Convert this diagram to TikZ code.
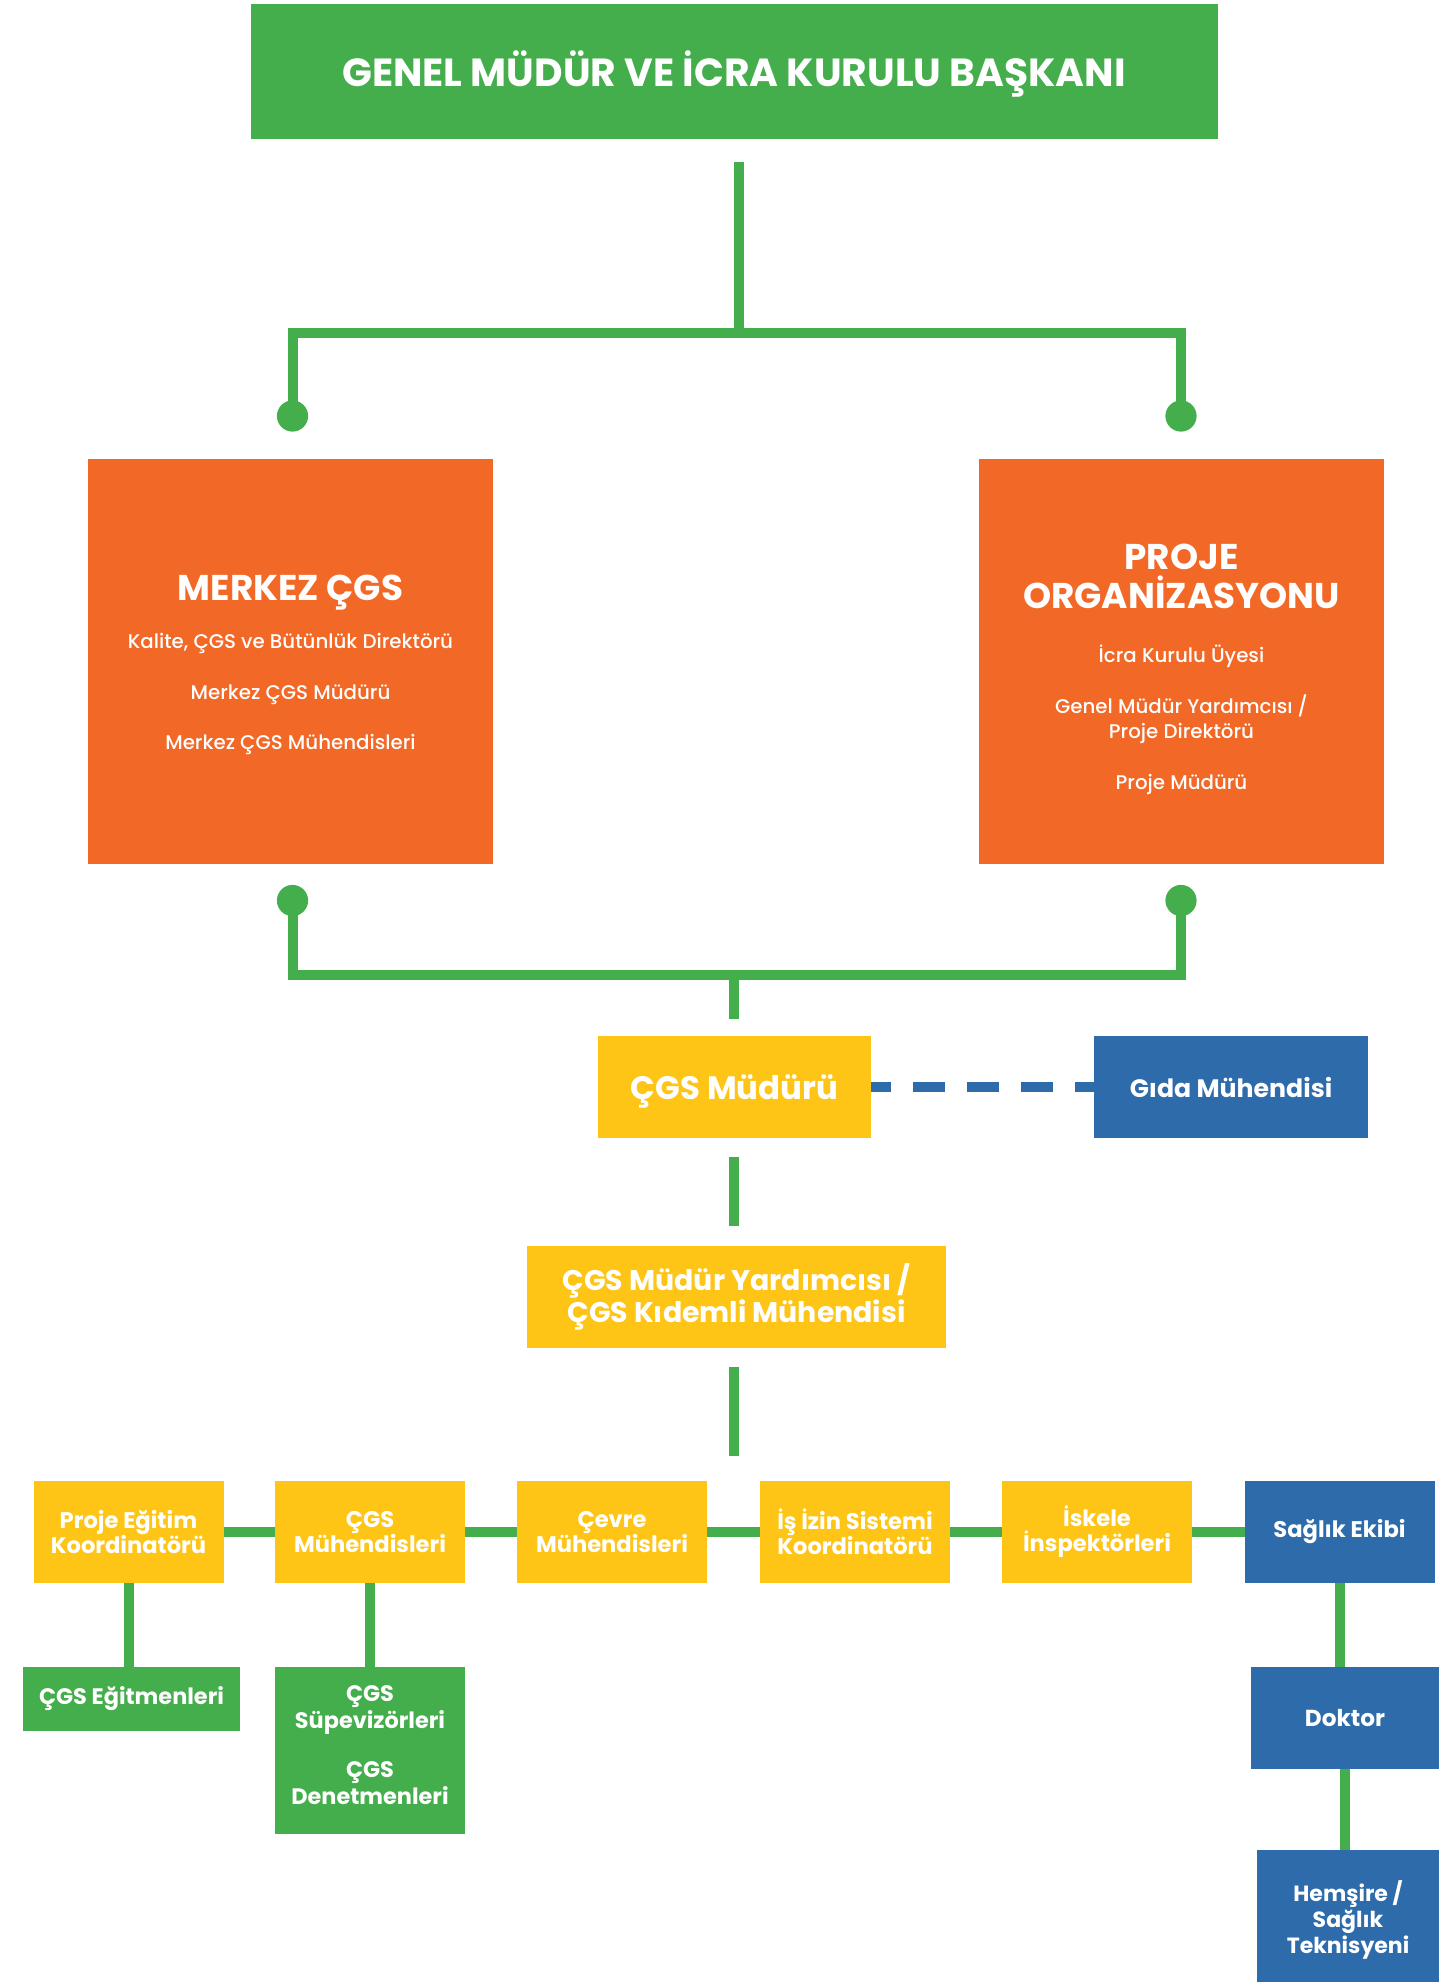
\documentclass[tikz,border=0pt]{standalone}
\usepackage{fontspec}
\setmainfont{Poppins}
\newfontfamily\medfont{Poppins Medium}
\definecolor{cgreen}{RGB}{67,174,75}
\definecolor{corange}{RGB}{242,104,38}
\definecolor{cyellow}{RGB}{254,197,23}
\definecolor{cblue}{RGB}{46,107,170}
\begin{document}
\begin{tikzpicture}[x=0.25pt,y=-0.25pt,
  box/.style={rectangle, inner sep=0pt, outer sep=0pt, text=white, align=center, font=\bfseries},
  gbox/.style={box, fill=cgreen},
  obox/.style={box, fill=corange},
  ybox/.style={box, fill=cyellow},
  bbox/.style={box, fill=cblue},
  rowbox/.style={minimum width=47.5pt, minimum height=25.5pt, font=\bfseries\fontsize{5.65pt}{6.25pt}\selectfont},
  conn/.style={draw=cgreen, line width=2.5pt},
  dashc/.style={draw=cblue, line width=2.5pt, dash pattern=on 8.1pt off 5.4pt, dash phase=3pt},
  dotc/.style={circle, fill=cgreen, inner sep=0pt, minimum size=7.8pt},
  txt/.style={text=white, inner sep=0pt, anchor=base},
  ttl/.style={txt, font=\bfseries\fontsize{8.95pt}{10pt}\selectfont},
  sub/.style={txt, font=\medfont\fontsize{4.95pt}{6pt}\selectfont}
]
\useasboundingbox (0,0) rectangle (1452,1982);

% top
\node[gbox, minimum width=241.75pt, minimum height=33.75pt] (top) at (734,71.5) {};
\node[txt, anchor=center, font=\bfseries\fontsize{9.8pt}{11pt}\selectfont] (toptxt) at (734,74) {GENEL MÜDÜR VE İCRA KURULU BAŞKANI};

% orange boxes
\node[obox, minimum width=101.25pt, minimum height=101.25pt] (merkez) at (290.5,661.5) {};
\node[obox, minimum width=101.25pt, minimum height=101.25pt] (proje) at (1181.5,661.5) {};

\node[ttl] (m1) at (290.5,600) {MERKEZ ÇGS};
\node[sub] (m2) at (290.5,648) {Kalite, ÇGS ve Bütünlük Direktörü};
\node[sub] (m3) at (290.5,699.5) {Merkez ÇGS Müdürü};
\node[sub] (m4) at (290.5,749) {Merkez ÇGS Mühendisleri};

\node[ttl] (p1) at (1181.5,569) {PROJE};
\node[ttl] (p2) at (1181.5,608) {ORGANİZASYONU};
\node[sub] (p3) at (1181.5,662) {İcra Kurulu Üyesi};
\node[sub] (p4) at (1181.5,713) {Genel Müdür Yardımcısı /};
\node[sub] (p5) at (1181.5,738) {Proje Direktörü};
\node[sub] (p6) at (1181.5,789) {Proje Müdürü};

% dots
\node[dotc] (dtl) at (292.5,416) {};
\node[dotc] (dtr) at (1181,416) {};
\node[dotc] (dbl) at (292.5,900.5) {};
\node[dotc] (dbr) at (1181,900.5) {};
\coordinate (tstart) at (739,162);
\coordinate (tbar) at (739,333);
\coordinate (bbar) at (734,975);
\coordinate (bend) at (734,1019);

\draw[conn] (tstart) -- (tbar);
\draw[conn, line join=miter] (dtl.center) |- (tbar) -| (dtr.center);
\draw[conn, line join=miter] (dbl.center) |- (bbar) -| (dbr.center);
\draw[conn] (bbar) -- (bend);

% CGS Muduru and Gida
\node[ybox, minimum width=68.25pt, minimum height=25.5pt] (cgsm) at (734.5,1087) {};
\node[txt, anchor=center, font=\bfseries\fontsize{8.1pt}{9pt}\selectfont] (cgsmt) at (734.5,1091) {ÇGS Müdürü};
\node[bbox, minimum width=68.5pt, minimum height=25.5pt, font=\bfseries\fontsize{6.3pt}{8pt}\selectfont] (gida) at (1231,1087) {Gıda Mühendisi};
\draw[dashc] (cgsm.east) -- (gida.west);

\coordinate (c1a) at (734,1157);
\coordinate (c1b) at (734,1226);
\draw[conn] (c1a) -- (c1b);

\node[ybox, minimum width=104.75pt, minimum height=25.5pt, font=\bfseries\fontsize{7.1pt}{8pt}\selectfont] (yard) at (736.5,1297) {ÇGS Müdür Yardımcısı /\\ÇGS Kıdemli Mühendisi};

\coordinate (c2a) at (734,1367);
\coordinate (c2b) at (734,1456);
\draw[conn] (c2a) -- (c2b);

% row
\node[ybox, rowbox] (r1) at (128.5,1532) {Proje Eğitim\\Koordinatörü};
\node[ybox, rowbox] (r2) at (370,1532) {ÇGS\\Mühendisleri};
\node[ybox, rowbox] (r3) at (612,1532) {Çevre\\Mühendisleri};
\node[ybox, rowbox] (r4) at (855,1532) {İş İzin Sistemi\\Koordinatörü};
\node[ybox, rowbox] (r5) at (1097,1532) {İskele\\İnspektörleri};
\node[bbox, rowbox] (r6) at (1339.5,1532) {Sağlık Ekibi};
\foreach \a/\b in {r1/r2,r2/r3,r3/r4,r4/r5,r5/r6}
  \draw[conn] (\a.east) -- (\b.west);

% lower
\node[gbox, minimum width=54.25pt, minimum height=16pt, font=\bfseries\fontsize{5.6pt}{6.25pt}\selectfont] (egit) at (131.5,1699) {ÇGS Eğitmenleri};
\node[gbox, minimum width=47.5pt, minimum height=41.75pt] (supv) at (370,1750.5) {};
\node[txt, anchor=center, align=center, font=\bfseries\fontsize{5.6pt}{6.75pt}\selectfont] (supvt) at (370,1745) {ÇGS\\Süpevizörleri\\[5.5pt]ÇGS\\Denetmenleri};
\node[bbox, minimum width=47pt, minimum height=25.5pt, font=\bfseries\fontsize{5.8pt}{6.5pt}\selectfont] (doktor) at (1345,1718) {Doktor};
\node[bbox, minimum width=45.5pt, minimum height=35pt, font=\bfseries\fontsize{5.5pt}{6.5pt}\selectfont] (hemsire) at (1348,1920) {Hemşire /\\Sağlık\\Teknisyeni};

\draw[conn] (egit.north -| r1.south) -- (r1.south);
\draw[conn] (supv.north) -- (supv.north |- r2.south);
\draw[conn] (doktor.north -| r6.south) -- (r6.south);
\draw[conn] (doktor.south) -- (doktor.south |- hemsire.north);
\end{tikzpicture}
\end{document}
